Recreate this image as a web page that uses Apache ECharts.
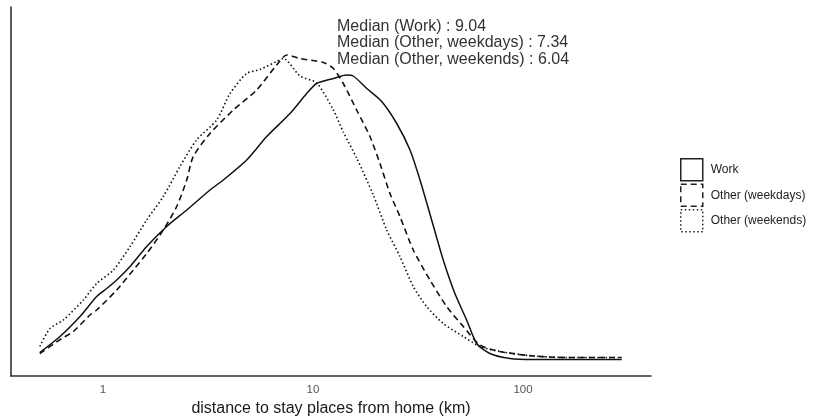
<!DOCTYPE html>
<html>
<head>
<meta charset="utf-8">
<script src="https://cdn.jsdelivr.net/npm/echarts@6/dist/echarts.min.js"></script>
<style>
  html, body { margin: 0; padding: 0; background: #fff; }
  #chart { width: 813px; height: 420px; }
</style>
</head>
<body>
<div id="chart"></div>
<script>
// distance (km) / density pairs
var workDist = [0.50, 0.624, 0.777, 0.933, 1.041, 1.162, 1.345, 1.615, 2.01, 2.504, 3.233, 3.74, 4.83, 6.02, 7.77, 9.33, 10.41, 12.5, 14.46, 15.55, 18.03, 21.24, 25.04, 28.97, 32.33, 36.73, 41.7, 47.4, 53.9, 60.2, 69.6, 86.7, 111.6, 295];
var workDens = [0.015, 0.047, 0.087, 0.127, 0.143, 0.160, 0.187, 0.227, 0.267, 0.300, 0.340, 0.360, 0.400, 0.447, 0.493, 0.533, 0.553, 0.563, 0.570, 0.568, 0.543, 0.517, 0.473, 0.420, 0.360, 0.280, 0.200, 0.133, 0.080, 0.033, 0.013, 0.003, 0.001, 0.001];

var weekdayDist = [0.50, 0.636, 0.722, 0.867, 0.933, 1.162, 1.394, 1.615, 1.937, 2.244, 2.504, 2.69, 3.233, 4.174, 5.39, 6.71, 7.50, 8.67, 11.2, 12.5, 13.94, 16.14, 18.67, 20.84, 23.26, 25.94, 30.03, 36.06, 43.3, 51.96, 62.4, 77.6, 111.9, 161.4, 295];
var weekdayDens = [0.013, 0.043, 0.057, 0.090, 0.100, 0.140, 0.180, 0.213, 0.260, 0.307, 0.360, 0.407, 0.453, 0.500, 0.540, 0.590, 0.610, 0.603, 0.595, 0.583, 0.553, 0.500, 0.447, 0.393, 0.333, 0.287, 0.220, 0.160, 0.107, 0.067, 0.030, 0.017, 0.008, 0.005, 0.005];

var weekendDist = [0.50, 0.559, 0.647, 0.806, 0.933, 1.12, 1.345, 1.615, 1.937, 2.326, 2.79, 3.478, 4.026, 4.83, 5.59, 6.71, 7.22, 8.67, 10.41, 12.5, 13.94, 16.14, 19.37, 22.44, 25.94, 30.03, 34.76, 41.7, 51.96, 62.4, 77.6, 111.9, 161.4, 295];
var weekendDens = [0.027, 0.063, 0.080, 0.120, 0.153, 0.180, 0.227, 0.280, 0.327, 0.387, 0.440, 0.480, 0.533, 0.573, 0.581, 0.597, 0.603, 0.568, 0.554, 0.500, 0.456, 0.404, 0.330, 0.260, 0.207, 0.147, 0.107, 0.073, 0.047, 0.027, 0.017, 0.008, 0.005, 0.005];

var seriesNames = ['Work', 'Other (weekdays)', 'Other (weekends)'];
var medianLabels = ['Median (Work)', 'Median (Other, weekdays)', 'Median (Other, weekends)'];
var medianValues = [9.04, 7.34, 6.04];
var tickValues = [1, 10, 100];

var FONT = '"Liberation Sans", Arial, sans-serif';

function pairs(xs, ys) {
	var out = [];
	for (var i = 0; i < xs.length; i++) out.push([xs[i], ys[i]]);
	return out;
}

var chart = echarts.init(document.getElementById('chart'));

var medianText = [];
for (var i = 0; i < medianLabels.length; i++) {
	medianText.push(medianLabels[i] + ' : ' + medianValues[i].toFixed(2));
}

var option = {
	animation: false,
	textStyle: { fontFamily: FONT },
	grid: { left: 11, right: 162, top: 7, bottom: 44, containLabel: false, outerBoundsMode: 'none' },
	legend: {
		orient: 'vertical',
		left: 675,
		top: 153,
		itemWidth: 22,
		itemHeight: 22,
		itemGap: 2,
		textStyle: { fontFamily: FONT, fontSize: 12, color: '#222', padding: [0, 0, 0, 3] },
		data: [
			{ name: seriesNames[0], icon: 'rect', itemStyle: { color: '#fff', borderColor: '#222', borderWidth: 1.5, borderType: 'solid' } },
			{ name: seriesNames[1], icon: 'rect', itemStyle: { color: '#fff', borderColor: '#222', borderWidth: 1.5, borderType: [6, 4] } },
			{ name: seriesNames[2], icon: 'rect', itemStyle: { color: '#fff', borderColor: '#222', borderWidth: 1.5, borderType: [1.5, 2.5] } }
		]
	},
	xAxis: {
		type: 'log',
		logBase: 10,
		min: 0.3646,
		max: 407,
		name: 'distance to stay places from home (km)',
		nameLocation: 'middle',
		nameGap: 23,
		nameTextStyle: { fontFamily: FONT, fontSize: 16, color: '#1a1a1a' },
		axisLine: { onZero: false, lineStyle: { color: '#333', width: 1.6 } },
		axisTick: { show: false },
		splitLine: { show: false },
		axisLabel: {
			fontFamily: FONT,
			fontSize: 11.5,
			color: '#555',
			margin: 8,
			showMinLabel: false,
			showMaxLabel: false,
			formatter: function (v) {
				for (var k = 0; k < tickValues.length; k++) {
					if (Math.abs(v - tickValues[k]) < tickValues[k] * 1e-6) return String(tickValues[k]);
				}
				return '';
			}
		}
	},
	yAxis: {
		type: 'value',
		min: -0.032,
		max: 0.706,
		axisLine: { show: true, onZero: false, lineStyle: { color: '#333', width: 1.6 } },
		axisTick: { show: false },
		axisLabel: { show: false },
		splitLine: { show: false }
	},
	graphic: [{
		type: 'text',
		left: 337,
		top: 18,
		style: {
			text: medianText.join('\n'),
			font: '16px ' + FONT,
			fill: '#333',
			lineHeight: 16.5
		}
	}],
	series: [
		{
			name: seriesNames[0],
			type: 'line',
			data: pairs(workDist, workDens),
			showSymbol: false,
			smooth: 0.25,
			itemStyle: { color: '#111' },
			lineStyle: { color: '#111', width: 1.5, type: 'solid' }
		},
		{
			name: seriesNames[1],
			type: 'line',
			data: pairs(weekdayDist, weekdayDens),
			showSymbol: false,
			smooth: 0.25,
			itemStyle: { color: '#111' },
			lineStyle: { color: '#111', width: 1.6, type: [6, 4] }
		},
		{
			name: seriesNames[2],
			type: 'line',
			data: pairs(weekendDist, weekendDens),
			showSymbol: false,
			smooth: 0.25,
			itemStyle: { color: '#111' },
			lineStyle: { color: '#111', width: 1.6, type: [1.5, 2.5] }
		}
	]
};

chart.setOption(option);
</script>
</body>
</html>
